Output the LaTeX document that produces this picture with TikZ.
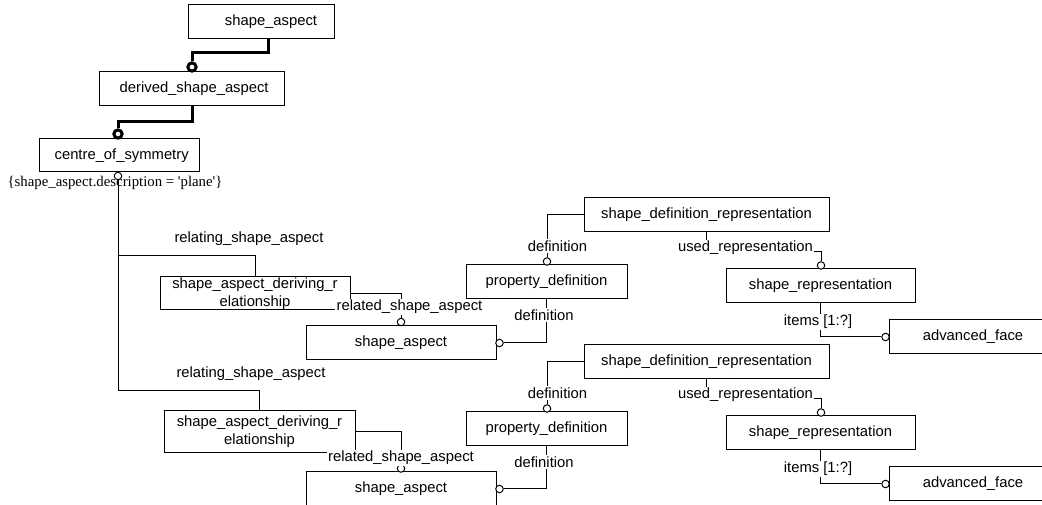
\documentclass[tikz,border=0pt]{standalone}
\usepackage{fontspec}
\setmainfont{Liberation Serif}
\setsansfont{Liberation Sans}
\tikzset{
  entity/.style={draw, line width=0.75pt, minimum height=25.5pt, inner sep=0pt,
    font=\sffamily\fontsize{11.1}{13.5}\selectfont, text height=8pt, text depth=2.4pt},
  entitytwo/.style={draw, line width=0.75pt, inner sep=0pt, align=center,
    font=\sffamily\fontsize{11.1}{13.5}\selectfont},
  role/.style={fill=white, inner sep=1pt, font=\sffamily\fontsize{11.1}{13.5}\selectfont},
  link/.style={line width=0.75pt},
  strong/.style={line width=2.25pt},
  ring/.style={circle, draw, fill=white, line width=0.75pt, minimum size=5.6pt, inner sep=0pt},
  bigring/.style={circle, draw, fill=white, line width=2.25pt, minimum size=6.2pt, inner sep=0pt}
}
\begin{document}
\begin{tikzpicture}[x=0.75pt,y=-0.75pt]
\clip (0,0) rectangle (1042,505);

% Drawing supertype chain
\node[entity, minimum width=109.5pt] (sa0) at (261,22) {\hspace*{15pt}shape\_aspect};%
\node[entity, minimum width=138.75pt] (dsa) at (191.5,89) {\hspace*{4pt}derived\_shape\_aspect};%
\node[entity, minimum width=120pt, minimum height=24.75pt] (cos) at (119,155.5) {\hspace*{4pt}centre\_of\_symmetry};%
\node[font=\fontsize{11.1}{13.5}\selectfont, inner sep=0pt] (rule) at (115,183) {\{shape\_aspect.description = \textquotesingle plane\textquotesingle\}};%

% Drawing first relationship group
\node[entitytwo, minimum width=142.5pt, minimum height=24.75pt] (sadr1) at (255,293.5) {shape\_aspect\_deriving\_r\\elationship};%
\node[entity, minimum width=142.5pt] (sa1) at (401,343) {shape\_aspect};%
\node[entity, minimum width=120.75pt] (pd1) at (546.5,282) {property\_definition};%
\node[entity, minimum width=183.75pt] (sdr1) at (706.5,215) {shape\_definition\_representation};%
\node[entity, minimum width=141.75pt] (sr1) at (820.5,286) {shape\_representation};%
\node[entity, minimum width=126pt] (af1) at (973,337) {advanced\_face};%

% Drawing second relationship group
\node[entitytwo, minimum width=143.25pt, minimum height=31.5pt] (sadr2) at (259.5,432) {shape\_aspect\_deriving\_r\\elationship};%
\node[entity, minimum width=142.5pt] (sa2) at (401,489) {shape\_aspect};%
\node[entity, minimum width=120.75pt] (pd2) at (546.5,429) {property\_definition};%
\node[entity, minimum width=183.75pt] (sdr2) at (706.5,362) {shape\_definition\_representation};%
\node[entity, minimum width=141.75pt] (sr2) at (820.5,433) {shape\_representation};%
\node[entity, minimum width=126pt] (af2) at (973,484) {advanced\_face};%

% Marking link ends by circles
\node[bigring] (o1) at (192,67) {};%
\node[bigring] (o2) at (118,134) {};%
\node[ring] (oc) at (118,176) {};%
\node[ring] (orel1) at (401,322) {};%
\node[ring] (od1) at (499.5,343) {};%
\node[ring] (opd1) at (547,261.5) {};%
\node[ring] (osr1) at (821,265.5) {};%
\node[ring] (oaf1) at (885.5,337) {};%
\node[ring] (orel2) at (401,468.5) {};%
\node[ring] (od2) at (499.5,489) {};%
\node[ring] (opd2) at (547,408.5) {};%
\node[ring] (osr2) at (821,412.5) {};%
\node[ring] (oaf2) at (885.5,484) {};%

% Bend points
\coordinate (k1) at (268,53);%
\coordinate (k2) at (192,122);%
\coordinate (k3) at (118,256);%
\coordinate (k4) at (118,391);%
\coordinate (k5) at (821,252);%
\coordinate (k6) at (821,399);%

% Drawing subtype links
\draw[strong] (k1 |- sa0.south) -- (k1) -| (o1.north);%
\draw[strong] (k2 |- dsa.south) -- (k2) -| (o2.north);%

% Drawing attribute links
\draw[link] (oc.south) -- (k4) -| (sadr2.north);%
\draw[link] (k3) -| (sadr1.north);%
\draw[link] (sadr1.east) -| (orel1.north);%
\draw[link] (sadr2.east) -| (orel2.north);%
\draw[link] (od1.east) -| (pd1.south);%
\draw[link] (od2.east) -| (pd2.south);%
\draw[link] (opd1.north) |- (sdr1.west);%
\draw[link] (opd2.north) |- (sdr2.west);%
\draw[link] (sdr1.south) |- (k5) -- (osr1.north);%
\draw[link] (sdr2.south) |- (k6) -- (osr2.north);%
\draw[link] (sr1.south) |- (oaf1.west);%
\draw[link] (sr2.south) |- (oaf2.west);%

% Marking attribute names
\node[role, fill=none] (rel1) at (249,239) {relating\_shape\_aspect};%
\node[role, fill=none] (rel2) at (251,374) {relating\_shape\_aspect};%
\node[role] (rd1) at (409.5,307) {related\_shape\_aspect};%
\node[role] (rd2) at (401,458) {related\_shape\_aspect};%
\node[role] (df1a) at (557.5,246) {definition};%
\node[role] (df1b) at (544,315) {definition};%
\node[role] (df2a) at (557.5,393) {definition};%
\node[role] (df2b) at (544,462) {definition};%
\node[role] (ur1) at (745.5,248) {used\_representation};%
\node[role] (ur2) at (745.5,395) {used\_representation};%
\node[role] (it1) at (818,322) {items [1:?]};%
\node[role] (it2) at (818,469) {items [1:?]};%
\end{tikzpicture}
\end{document}
